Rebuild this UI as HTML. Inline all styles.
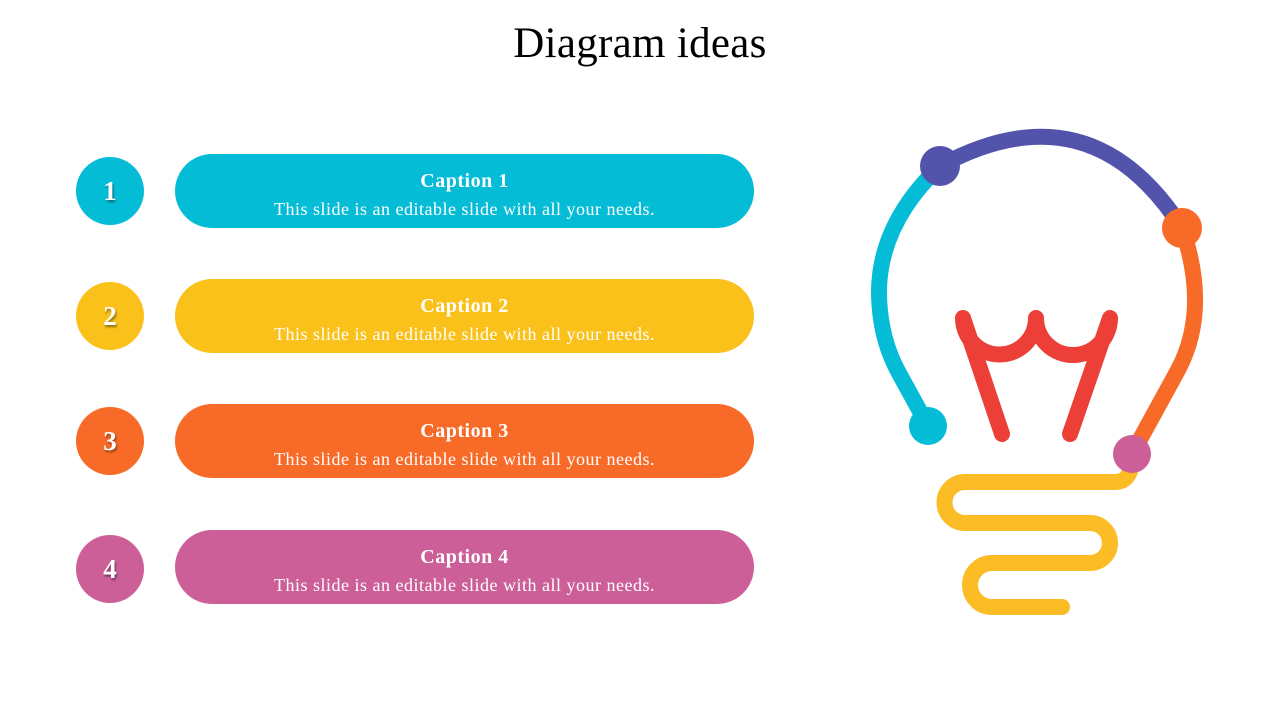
<!DOCTYPE html>
<html><head><meta charset="utf-8"><style>
body{margin:0;width:1280px;height:720px;background:#fff;position:relative;overflow:hidden;font-family:"Liberation Serif",serif}
h1{position:absolute;top:19px;left:0;width:1280px;text-align:center;margin:0;font-weight:normal;font-size:43px;letter-spacing:0.3px;color:#000}
.c{position:absolute;left:76px;width:68px;height:68px;border-radius:50%;color:#fff;font-weight:bold;font-size:27px;text-align:center;line-height:68px;text-shadow:1px 2px 2px rgba(0,0,0,.45)}
.p{position:absolute;left:175px;width:579px;height:74px;border-radius:37px;color:#fff;text-align:center}
.p b{display:block;font-size:20px;letter-spacing:0.5px;margin-top:15px;line-height:24px}
.p span{display:block;font-size:18px;letter-spacing:0.5px;line-height:22px;margin-top:5px}
</style></head><body>
<h1>Diagram ideas</h1>
<div class="c" style="top:157px;background:#05BCD6">1</div>
<div class="c" style="top:282px;background:#FAC11A">2</div>
<div class="c" style="top:407px;background:#F76A27">3</div>
<div class="c" style="top:535px;background:#CC5F98">4</div>
<div class="p" style="top:154px;background:#05BCD6"><b>Caption 1</b><span>This slide is an editable slide with all your needs.</span></div>
<div class="p" style="top:279px;background:#FAC11A"><b>Caption 2</b><span>This slide is an editable slide with all your needs.</span></div>
<div class="p" style="top:404px;background:#F76A27"><b>Caption 3</b><span>This slide is an editable slide with all your needs.</span></div>
<div class="p" style="top:530px;background:#CC5F98"><b>Caption 4</b><span>This slide is an editable slide with all your needs.</span></div>
<svg width="1280" height="720" style="position:absolute;left:0;top:0" fill="none" stroke-width="16" stroke-linecap="round">
<path d="M940 166 Q1090 85 1182 228" stroke="#5253AB"/>
<path d="M940 166 Q878 225 879 295 Q880 340 900 375 L928 426" stroke="#05BCD6"/>
<path d="M1182 228 Q1210 310 1178 370 L1132 454" stroke="#F76A27"/>
<path d="M1132 462 Q1130 482 1115 482 L965 482 A20.5 20.5 0 0 0 965 523 L1090 523 A20 20 0 0 1 1090 563 L992 563 A22 22 0 0 0 992 607 L1062 607" stroke="#FBBC26"/>
<path d="M963 318 L1002 434 M963 318 A36 36 0 0 0 1036 318 A36 36 0 0 0 1110 318 L1070 434" stroke="#EC3F37" stroke-linejoin="round"/>
<g stroke="none">
<circle cx="940" cy="166" r="20" fill="#5253AB"/>
<circle cx="1182" cy="228" r="20" fill="#F76A27"/>
<circle cx="928" cy="426" r="19" fill="#05BCD6"/>
<circle cx="1132" cy="454" r="19" fill="#CC5F98"/>
</g></svg>
</body></html>
